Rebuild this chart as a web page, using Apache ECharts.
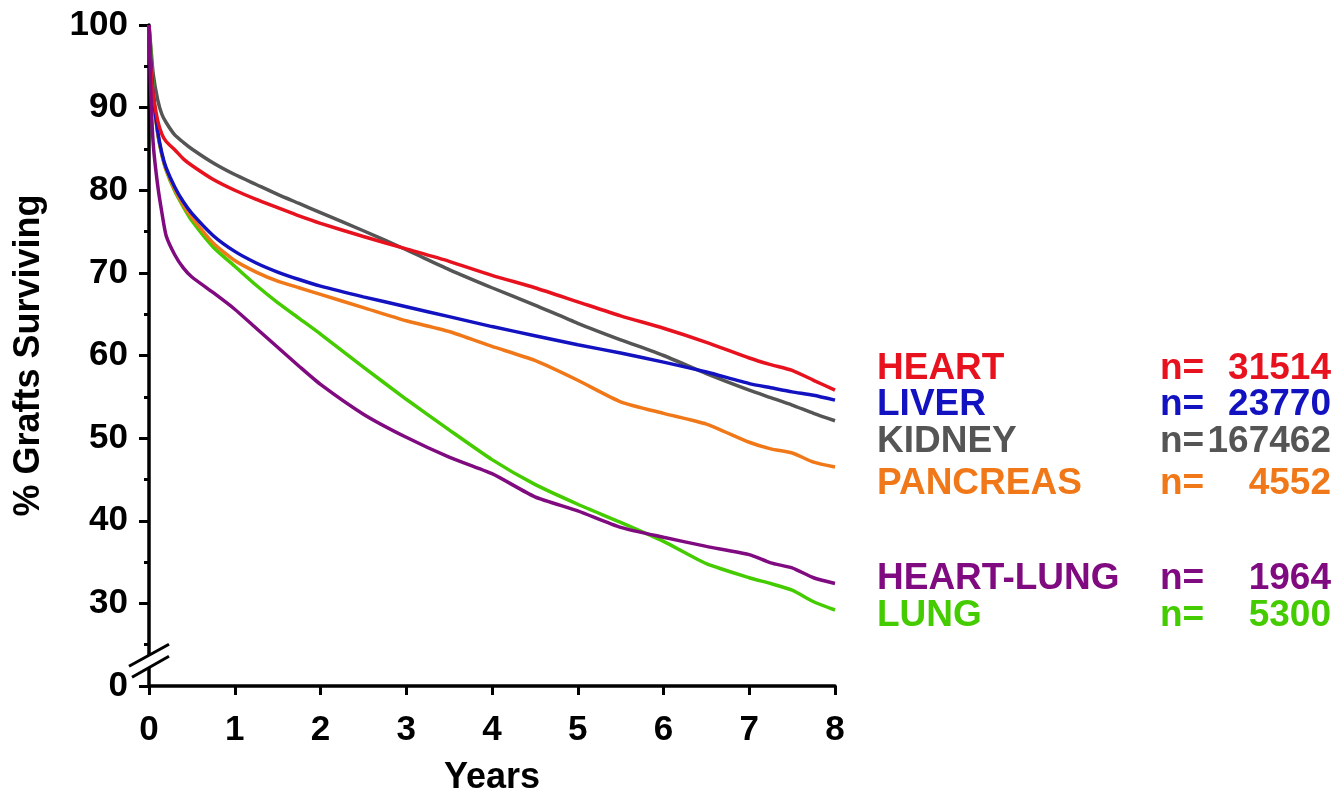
<!DOCTYPE html>
<html>
<head>
<meta charset="utf-8">
<script src="https://cdn.jsdelivr.net/npm/echarts@6/dist/echarts.min.js"></script>
<style>
html,body{margin:0;padding:0;background:#fff;}
#chart{width:1342px;height:792px;}
</style>
</head>
<body>
<div id="chart"></div>
<script>
// ---- data ----
const years = [0, 0.02, 0.05, 0.1, 0.15, 0.2, 0.3, 0.4, 0.5, 0.75, 1, 1.25, 1.5, 1.75, 2, 2.5, 3, 3.5, 4, 4.5, 5, 5.5, 6, 6.5, 7, 7.25, 7.5, 7.75, 8];
const heart     = [100, 95, 91.5, 88.5, 86.8, 85.9, 84.9, 83.8, 83.0, 81.3, 80.0, 78.9, 77.9, 76.9, 76.0, 74.4, 72.9, 71.4, 69.7, 68.2, 66.5, 64.8, 63.3, 61.6, 59.7, 58.9, 58.2, 57.0, 55.8];
const liver     = [100, 96, 91.5, 87.2, 84.5, 82.7, 80.4, 78.6, 77.2, 74.5, 72.6, 71.2, 70.1, 69.2, 68.4, 67.1, 65.9, 64.7, 63.5, 62.4, 61.3, 60.3, 59.2, 58.0, 56.6, 56.1, 55.6, 55.2, 54.6];
const kidney    = [100, 97.5, 94, 91.0, 89.2, 88.2, 86.7, 85.8, 85.0, 83.3, 81.9, 80.7, 79.5, 78.4, 77.3, 75.1, 72.8, 70.4, 68.2, 66.1, 63.9, 61.9, 60.0, 57.8, 55.8, 54.9, 54.0, 53.0, 52.1];
const pancreas  = [100, 96, 91.5, 87.0, 84.3, 82.5, 80.1, 78.2, 76.7, 73.6, 71.5, 70.1, 69.0, 68.2, 67.4, 65.8, 64.2, 62.9, 61.1, 59.4, 57.0, 54.4, 53.0, 51.7, 49.5, 48.7, 48.2, 47.1, 46.5];
const heartLung = [100, 92, 85.5, 80.7, 77.3, 74.5, 72.2, 70.6, 69.5, 67.6, 65.6, 63.3, 61.0, 58.7, 56.5, 52.9, 50.1, 47.7, 45.7, 42.9, 41.2, 39.2, 38.0, 36.9, 35.9, 34.9, 34.3, 33.1, 32.4];
const lung      = [100, 97, 92, 87.0, 84.3, 82.4, 79.9, 78.0, 76.3, 73.1, 70.8, 68.5, 66.4, 64.5, 62.6, 58.6, 54.7, 51.0, 47.4, 44.4, 42.0, 39.8, 37.5, 34.8, 33.1, 32.4, 31.6, 30.2, 29.2];
const legendRows = [
  {name: 'HEART',      n: '31514',  color: '#e8121f'},
  {name: 'LIVER',      n: '23770',  color: '#1212c0'},
  {name: 'KIDNEY',     n: '167462', color: '#555555'},
  {name: 'PANCREAS',   n: '4552',   color: '#f07818'},
  {name: 'HEART-LUNG', n: '1964',   color: '#800a80'},
  {name: 'LUNG',       n: '5300',   color: '#44cc00'}
];
const yTicks = [20, 30, 40, 50, 60, 70, 80, 90, 100];
const yTickLabels = ['0', '30', '40', '50', '60', '70', '80', '90', '100'];

const FONT = '"Liberation Sans", Arial, sans-serif';
function pairs(vals){ return years.map((x,i)=>[x, vals[i]]); }
function mk(name, vals, color){
  return {name, type:'line', data: pairs(vals), showSymbol:false, smooth:0.2,
    lineStyle:{color, width:3.5}, itemStyle:{color}, z:2};
}

const chart = echarts.init(document.getElementById('chart'));
chart.setOption({
  animation:false,
  backgroundColor:'#ffffff',
  grid:{left:149, top:25, right:507, bottom:106, containLabel:false, outerBoundsMode:'none'},
  xAxis:{type:'value', min:0, max:8, interval:1,
    name:'Years', nameLocation:'middle', nameGap:74,
    nameTextStyle:{fontFamily:FONT, fontWeight:'bold', fontSize:36, color:'#000'},
    axisLine:{show:true, lineStyle:{color:'#000', width:3.5}},
    axisTick:{show:true, inside:false, length:9, lineStyle:{color:'#000', width:3}},
    axisLabel:{fontFamily:FONT, fontWeight:'bold', fontSize:35, color:'#000', margin:27},
    splitLine:{show:false}},
  yAxis:{type:'value', min:20, max:100, interval:10,
    name:'% Grafts Surviving', nameLocation:'middle', nameGap:102, nameRotate:90,
    nameTextStyle:{fontFamily:FONT, fontWeight:'bold', fontSize:36, color:'#000'},
    axisLine:{show:true, lineStyle:{color:'#000', width:3.5}},
    axisTick:{show:true, inside:false, length:10, lineStyle:{color:'#000', width:3}},
    minorTick:{show:true, splitNumber:2, length:5, lineStyle:{color:'#000', width:3}},
    axisLabel:{fontFamily:FONT, fontWeight:'bold', fontSize:35, color:'#000', margin:21,
      formatter:(v)=>{const i=yTicks.indexOf(v); return i>=0?yTickLabels[i]:'';}},
    splitLine:{show:false}},
  series:[
    mk('KIDNEY', kidney, legendRows[2].color),
    mk('LUNG', lung, legendRows[5].color),
    mk('PANCREAS', pancreas, legendRows[3].color),
    mk('LIVER', liver, legendRows[1].color),
    mk('HEART', heart, legendRows[0].color),
    mk('HEART-LUNG', heartLung, legendRows[4].color)
  ]
});

// legend block (text) and axis-break marks
const rowY = [369, 405, 442, 484, 579, 616];
const g = [];
legendRows.forEach((r,i)=>{
  const base = {fontFamily:FONT, fontWeight:'bold', fontSize:37, fill:r.color,
    verticalAlign:'middle', textVerticalAlign:'middle'};
  g.push({type:'text', z:10, style:Object.assign({}, base, {text:r.name, x:877, y:rowY[i], align:'left', textAlign:'left'})});
  g.push({type:'text', z:10, style:Object.assign({}, base, {text:'n=', x:1160, y:rowY[i], align:'left', textAlign:'left'})});
  g.push({type:'text', z:10, style:Object.assign({}, base, {text:r.n, x:1331, y:rowY[i], align:'right', textAlign:'right'})});
});
const ax = chart.convertToPixel({xAxisIndex:0}, 0);
const by = chart.convertToPixel({yAxisIndex:0}, 23);
const dx = 20, dy = 11, gap = 6;
g.push({type:'polygon', z:20, shape:{points:[[ax-dx, by-gap+dy],[ax+dx, by-gap-dy],[ax+dx, by+gap-dy],[ax-dx, by+gap+dy]]}, style:{fill:'#fff'}});
g.push({type:'line', z:21, shape:{x1:ax-dx, y1:by-gap+dy, x2:ax+dx, y2:by-gap-dy}, style:{stroke:'#000', lineWidth:3}});
g.push({type:'line', z:21, shape:{x1:ax-dx+3, y1:by+gap+dy-1, x2:ax+dx, y2:by+gap-dy}, style:{stroke:'#000', lineWidth:3}});
chart.setOption({graphic:g});
</script>
</body>
</html>
